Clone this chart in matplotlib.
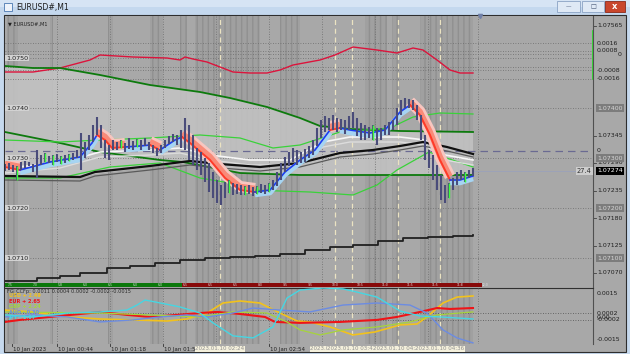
import matplotlib
matplotlib.use("Agg")
import matplotlib.pyplot as plt
from matplotlib import transforms
from matplotlib.patches import Rectangle

W, H = 630, 354

# ---- EURUSD M1 bars, one column ~ 2.5 minutes ----
bar_high = [1.07288, 1.07290, 1.07286, 1.07284, 1.07292, 1.07296, 1.07292, 1.07288, 1.07316, 1.07306,
            1.07310, 1.07304, 1.07306, 1.07308, 1.07304, 1.07306, 1.07308, 1.07310, 1.07316, 1.07350,
            1.07332, 1.07346, 1.07366, 1.07382, 1.07366, 1.07336, 1.07326, 1.07336, 1.07332, 1.07336,
            1.07330, 1.07340, 1.07334, 1.07338, 1.07336, 1.07340, 1.07332, 1.07326, 1.07320, 1.07326,
            1.07336, 1.07344, 1.07348, 1.07346, 1.07356, 1.07380, 1.07366, 1.07346, 1.07320, 1.07312,
            1.07300, 1.07290, 1.07272, 1.07256, 1.07246, 1.07252, 1.07256, 1.07250, 1.07248, 1.07246,
            1.07244, 1.07246, 1.07242, 1.07244, 1.07248, 1.07246, 1.07250, 1.07256, 1.07272, 1.07290,
            1.07302, 1.07312, 1.07320, 1.07316, 1.07312, 1.07318, 1.07324, 1.07336, 1.07360, 1.07376,
            1.07384, 1.07380, 1.07386, 1.07380, 1.07378, 1.07376, 1.07384, 1.07392, 1.07380, 1.07370,
            1.07366, 1.07362, 1.07366, 1.07360, 1.07360, 1.07366, 1.07372, 1.07376, 1.07400, 1.07416,
            1.07420, 1.07418, 1.07416, 1.07406, 1.07386, 1.07346, 1.07316, 1.07306, 1.07286, 1.07266,
            1.07246, 1.07250, 1.07260, 1.07272, 1.07276, 1.07272, 1.07276, 1.07280]
bar_low = [1.07274, 1.07276, 1.07272, 1.07256, 1.07276, 1.07280, 1.07284, 1.07272, 1.07260, 1.07286,
           1.07292, 1.07290, 1.07286, 1.07292, 1.07288, 1.07290, 1.07294, 1.07296, 1.07300, 1.07276,
           1.07300, 1.07316, 1.07332, 1.07346, 1.07320, 1.07300, 1.07296, 1.07316, 1.07316, 1.07320,
           1.07312, 1.07318, 1.07316, 1.07322, 1.07316, 1.07324, 1.07316, 1.07310, 1.07304, 1.07310,
           1.07320, 1.07328, 1.07332, 1.07326, 1.07320, 1.07316, 1.07296, 1.07286, 1.07276, 1.07266,
           1.07252, 1.07232, 1.07220, 1.07210, 1.07206, 1.07220, 1.07230, 1.07226, 1.07228, 1.07226,
           1.07226, 1.07228, 1.07224, 1.07228, 1.07230, 1.07228, 1.07232, 1.07236, 1.07244, 1.07256,
           1.07272, 1.07284, 1.07292, 1.07286, 1.07290, 1.07292, 1.07300, 1.07306, 1.07324, 1.07340,
           1.07352, 1.07356, 1.07356, 1.07352, 1.07356, 1.07348, 1.07356, 1.07360, 1.07344, 1.07336,
           1.07336, 1.07340, 1.07336, 1.07326, 1.07336, 1.07346, 1.07346, 1.07356, 1.07366, 1.07386,
           1.07400, 1.07400, 1.07396, 1.07376, 1.07336, 1.07296, 1.07280, 1.07256, 1.07236, 1.07216,
           1.07210, 1.07220, 1.07236, 1.07246, 1.07256, 1.07252, 1.07260, 1.07264]
green_bars = [3, 10, 12, 14, 16, 29, 33, 56, 60, 63, 66, 92, 111, 115]
current_price = 1.07274

# ---- indicator lines (column, price) ----
red_x = [0, 7, 13.75, 21.25, 23.75, 32, 40.5, 43.75, 45, 47, 50.5, 53.75, 57, 61.25, 65.5, 68.75, 72, 78.75,
         82.5, 87, 93, 98, 102, 104.5, 108, 111.25, 113.75, 117]
red_y = [1.07472, 1.07472, 1.07480, 1.07496, 1.07506, 1.07502, 1.07500, 1.07496, 1.07502, 1.07498, 1.07492,
         1.07482, 1.07472, 1.07470, 1.07470, 1.07476, 1.07486, 1.07496, 1.07506, 1.07522, 1.07516, 1.07510,
         1.07520, 1.07516, 1.07496, 1.07476, 1.07470, 1.07470]

dgreen_up_x = [0, 7, 13.75, 23.75, 36.25, 48.75, 56.25, 65.5, 73.75, 78.75, 86.25, 98.75, 117]
dgreen_up_y = [1.07484, 1.07480, 1.07480, 1.07466, 1.07446, 1.07432, 1.07420, 1.07402, 1.07380, 1.07364,
               1.07358, 1.07354, 1.07352]
dgreen_lo_x = [0, 13.75, 23.75, 38.75, 44.5, 58.75, 73.75, 98.75, 117]
dgreen_lo_y = [1.07352, 1.07330, 1.07312, 1.07296, 1.07292, 1.07270, 1.07266, 1.07266, 1.07266]
band_lo_x = [0, 20, 22.5, 36.25, 46.25, 49, 58.75, 73.75, 117]
band_lo_y = [1.07262, 1.07262, 1.07268, 1.07282, 1.07290, 1.07286, 1.07270, 1.07266, 1.07266]

black_x = [0, 18.75, 22.5, 36.25, 46.25, 53.75, 63.75, 73.75, 83.75, 92, 98.75, 104.5, 110.5, 117]
black_y = [1.07264, 1.07262, 1.07272, 1.07284, 1.07294, 1.07288, 1.07282, 1.07290, 1.07310, 1.07316,
           1.07324, 1.07332, 1.07322, 1.07308]
gray_y = [1.07256, 1.07254, 1.07264, 1.07276, 1.07286, 1.07280, 1.07274, 1.07282, 1.07302, 1.07308,
          1.07316, 1.07324, 1.07314, 1.07302]

white_x = [0, 13.75, 23.75, 36.25, 43.75, 51.25, 61.25, 71.25, 79.5, 86.25, 98.75, 105, 110, 117]
white1_y = [1.07280, 1.07290, 1.07312, 1.07316, 1.07320, 1.07306, 1.07296, 1.07296, 1.07332, 1.07342,
            1.07342, 1.07336, 1.07306, 1.07296]
white2_y = [1.07270, 1.07280, 1.07302, 1.07306, 1.07310, 1.07296, 1.07286, 1.07286, 1.07322, 1.07332,
            1.07332, 1.07326, 1.07296, 1.07286]

lgreen_up_x = [0, 13.75, 23.75, 36.25, 48.75, 58.75, 67, 73.75, 83.75, 96.25, 102, 108.75, 117]
lgreen_up_y = [1.07336, 1.07332, 1.07336, 1.07340, 1.07346, 1.07340, 1.07320, 1.07326, 1.07352, 1.07360,
               1.07382, 1.07390, 1.07388]
lgreen_lo_x = [0, 13.75, 26.25, 38.75, 48.75, 56.25, 61.25, 76.25, 87, 93, 98, 106, 117]
lgreen_lo_y = [1.07260, 1.07260, 1.07282, 1.07290, 1.07260, 1.07250, 1.07236, 1.07232, 1.07226, 1.07246,
               1.07276, 1.07312, 1.07282]

# fast MA ribbon; rib_up tells the colour of each segment (1 = blue, 0 = red)
rib_x = [0, 3.75, 11.25, 18.75, 21.75, 23, 25, 26.75, 30, 33.75, 36.25, 38.75, 42.5, 44.25, 46.25, 51.25,
         55, 58.75, 62.5, 66.25, 70, 73.75, 77.5, 81.25, 83.75, 86.25, 91.25, 95, 98.75, 101.25, 103.75,
         106.25, 108.75, 111.25, 113.75, 117]
rib_y = [1.07282, 1.07276, 1.07292, 1.07302, 1.07330, 1.07346, 1.07336, 1.07320, 1.07322, 1.07324, 1.07326,
         1.07316, 1.07336, 1.07342, 1.07330, 1.07296, 1.07260, 1.07236, 1.07232, 1.07236, 1.07272, 1.07296,
         1.07316, 1.07356, 1.07360, 1.07356, 1.07350, 1.07356, 1.07392, 1.07406, 1.07386, 1.07346, 1.07296,
         1.07256, 1.07256, 1.07264]
rib_up = [0, 1, 1, 1, 1, 0, 0, 0, 1, 1, 0, 1, 1, 0, 0, 0, 0, 0, 1, 1, 1, 1, 1, 0, 1, 1, 1, 1, 1, 0, 0, 0, 0, 1, 1]

# stepped line near the bottom
step_x = [0, 8, 13.75, 18.75, 25.5, 31.25, 37.5, 43.75, 50, 56.25, 62.5, 68.75, 75, 81.25, 87, 93.25, 99.5,
          105.75, 112, 117]
step_y = [1.07054, 1.07060, 1.07064, 1.07070, 1.07080, 1.07084, 1.07090, 1.07096, 1.07100, 1.07102, 1.07104,
          1.07108, 1.07116, 1.07122, 1.07126, 1.07134, 1.07140, 1.07142, 1.07144, 1.07146]

shade_start = [0.5, 11.25, 25.75, 36.25, 43.75, 47.5, 68.75, 90, 96.75, 103.75]
shade_end = [3.25, 12, 27, 39.5, 45.5, 63.75, 73.75, 95.5, 98.75, 117]

grid_cols = [13, 26.25, 39.5, 52.75, 66, 79.25, 92.5, 105.75, 118.25]
price_grid = [1.0750, 1.0740, 1.0730, 1.0720, 1.0710]
osc_lines = [1.07530, 1.07514, 1.07508, 1.07482, 1.07476, 1.07458]
osc_labels = ["0.0016", "0.0008", "-0.0008", "-0.0016"]
osc_label_y = [1.07530, 1.07514, 1.07476, 1.07458]
zero_level = 1.07314

right_ticks = [1.07565, 1.07345, 1.07290, 1.07235, 1.07180, 1.07125, 1.07070]
boxed_levels = [1.07400, 1.07300, 1.07200, 1.07100]

vline_cols = [53.75, 82.5, 86.75, 98.25, 108.75]
vline_labels = ["2023.01.10 02:24", "2023.01.10 03:33", "2023.01.10 03:42", "2023.01.10 04:10",
                "2023.01.10 04:36"]
time_cols = [1.75, 13, 26.25, 39.5, 66]
time_labels = ["10 Jan 2023", "10 Jan 00:44", "10 Jan 01:18", "10 Jan 01:52", "10 Jan 02:54"]

strip_switch = 44.25
strip_end = 119.25
strip_labels = ["7:5", "7:0", "5:8", "6:0", "6:5", "6:0", "6:0", "6:5", "6:5", "6:5",
                "8:0", "9:5", "9:5", "10:0", "10:5", "11:0", "11:5", "11:5", "11:8", "12:0"]

# ---- currency strength sub window (column, value) ----
usd_x = [0, 7, 15.5, 23.75, 32, 40.5, 45.5, 50.5, 54.5, 58.75, 63.75, 68.75, 73, 76.25, 81.25, 87, 92.5,
         98.75, 103, 105.5, 109.5, 113, 117]
usd_y = [0.00041, 0.00029, -0.00003, -0.00016, -0.00022, -0.00029, -0.00016, 0.00022, 0.00086, 0.00099,
         0.00086, 0.00022, -0.00029, -0.00035, -0.00067, -0.00118, -0.00099, -0.00054, -0.00048, -0.00003,
         0.00086, 0.00124, 0.00131]
eur_x = [0, 3.75, 11.25, 21.25, 23.75, 30.5, 36.25, 43, 48.75, 53, 58.75, 65, 67.5, 73.75, 83.75, 93, 98,
         103.75, 108, 111.25, 117]
eur_y = [-0.00035, -0.00022, -0.00003, 0.00022, 0.00029, 0.00010, -0.00003, 0.00010, 0.00022, 0.00029,
         0.00016, -0.00003, -0.00035, -0.00041, -0.00035, -0.00022, -0.00003, 0.00029, 0.00054, 0.00048,
         0.00054]
gbp_x = [0, 23.75, 48.75, 57, 65.5, 70.5, 73.75, 78.75, 84.5, 93, 101.25, 108, 117]
gbp_y = [0.00029, 0.00022, -0.00003, 0.00029, 0.00022, -0.00035, -0.00086, -0.00118, -0.00086, -0.00067,
         -0.00035, 0.00010, 0.00029]
aud_x = [0, 7, 15.5, 23.75, 32, 38.75, 45.5, 50.5, 57, 62, 68.75, 76.25, 84.5, 93, 101.25, 105.5, 109.5,
         113, 117]
aud_y = [-0.00003, 0.00010, -0.00003, -0.00035, -0.00022, -0.00003, 0.00010, -0.00003, 0.00022, 0.00054,
         0.00041, 0.00029, 0.00073, 0.00086, 0.00073, 0.00022, -0.00086, -0.00137, -0.00169]
jpy_x = [0, 7, 15.5, 23.75, 30.5, 33, 35, 37.5, 43.75, 48.75, 52, 57, 62, 67, 70.5, 73.75, 79.5, 84.5, 88,
         93, 98.75, 103.75, 108.75, 117]
jpy_y = [0.00010, -0.00003, 0.00022, 0.00029, 0.00041, 0.00073, 0.00105, 0.00093, 0.00061, 0.00022,
         -0.00041, -0.00124, -0.00137, -0.00067, 0.00118, 0.00169, 0.00182, 0.00176, 0.00156, 0.00124,
         0.00035, 0.00003, -0.00003, -0.00016]
ccy_names = ["USD + 2.49", "EUR + 2.65", "GBP + 2.24", "AUD - 0.30", "JPY - 1.07"]
sub_header = "FG_CCFp: 0.0011 0.0004 0.0002 -0.0002 -0.0015"
sub_ticks = [0.0015, 0.0002, -0.0002, -0.0015]
sub_dotted = [0.0002, -0.0002]

BG = '#a8a8a8'
GRID = '#6c6c6c'


def fx(px):
    return px / W


def fy(py):
    return 1 - py / H


def box(x0, y0, x1, y1, **kw):
    fig.add_artist(Rectangle((fx(x0), fy(y1)), fx(x1) - fx(x0), (y1 - y0) / H,
                             transform=fig.transFigure, zorder=-1, **kw))


fig = plt.figure(figsize=(W / 100, H / 100), dpi=100)
fig.patch.set_facecolor('#c6d9ee')

# window chrome
box(0, 0, W, 7, facecolor='#d6e4f4', edgecolor='none')
box(0, 7, W, 15, facecolor='#c4d8ee', edgecolor='none')
box(4, 3, 12, 11, facecolor='#eef3fa', edgecolor='#4a78b0', lw=0.6)
fig.text(fx(16), fy(7.5), "EURUSD#,M1", fontsize=5.6, color='#1c1c1c', va='center')
box(557, 1, 580, 12, facecolor='#dfe9f5', edgecolor='#8aa2c4', lw=0.6)
box(582, 1, 604, 12, facecolor='#dfe9f5', edgecolor='#8aa2c4', lw=0.6)
box(605, 1, 625, 12, facecolor='#c9462c', edgecolor='#8a2a1a', lw=0.6)
fig.text(fx(568.5), fy(7), "—", fontsize=4, color='#405070', ha='center', va='center')
fig.text(fx(593), fy(6.5), "□", fontsize=4.5, color='#405070', ha='center', va='center')
fig.text(fx(615), fy(6.5), "x", fontsize=6, color='white', ha='center', va='center', fontweight='bold')
box(4, 15, 626, 352, facecolor=BG, edgecolor='#2e2e2e', lw=0.8)

ax = fig.add_axes([fx(5), fy(287), fx(593) - fx(5), (287 - 16) / H])
sub = fig.add_axes([fx(5), fy(344), fx(593) - fx(5), (344 - 288) / H], sharex=ax)
for a in (ax, sub):
    a.set_facecolor(BG)
    a.set_xticks([])
    a.set_yticks([])
    for s in a.spines.values():
        s.set_visible(False)
    a.spines['right'].set_visible(True)
    a.spines['right'].set_color('#505050')
    a.spines['right'].set_linewidth(0.8)
sub.spines['top'].set_visible(True)
sub.spines['top'].set_color('#303030')
ax.set_xlim(0, 147)
ax.set_ylim(1.07042, 1.07584)
sub.set_ylim(-0.00176, 0.00182)

# session shading and light band
for s0, s1 in zip(shade_start, shade_end):
    for a in (ax, sub):
        a.axvspan(s0, s1, facecolor='#a0a0a0', edgecolor='#909090', hatch='|||', lw=0, zorder=1)
ax.fill(dgreen_up_x + band_lo_x[::-1], dgreen_up_y + band_lo_y[::-1], color='#c4c4c4', alpha=0.85,
        lw=0, zorder=2)

# grid
for c in grid_cols:
    for a in (ax, sub):
        a.axvline(c, color=GRID, ls=(0, (1, 2)), lw=0.6, zorder=3)
for p in price_grid + osc_lines:
    ax.axhline(p, color=GRID, ls=(0, (1, 2)), lw=0.6, zorder=3)
for v in sub_dotted:
    sub.axhline(v, color='#505050', ls=(0, (1, 2)), lw=0.6, zorder=3)
ax.axhline(zero_level, color='#6a6a92', ls=(0, (6, 4)), lw=0.9, zorder=3)
for c in vline_cols:
    for a in (ax, sub):
        a.axvline(c, color='#ebe3c2', ls=(0, (4, 3)), lw=0.9, zorder=3)

# indicator lines
ax.plot(red_x, red_y, color='#dc143c', lw=1.0, zorder=4)
ax.plot(dgreen_up_x, dgreen_up_y, color='#0d7a0d', lw=1.3, zorder=4)
ax.plot(dgreen_lo_x, dgreen_lo_y, color='#0d7a0d', lw=1.3, zorder=4)
ax.plot(lgreen_up_x, lgreen_up_y, color='#3ad23a', lw=0.9, zorder=4)
ax.plot(lgreen_lo_x, lgreen_lo_y, color='#3ad23a', lw=0.9, zorder=4)
ax.plot(white_x, white2_y, color='#dcdcdc', lw=1.0, zorder=4)
ax.plot(white_x, white1_y, color='#f6f6f6', lw=1.2, zorder=4)
ax.plot(black_x, gray_y, color='#5a5a5a', lw=0.9, zorder=4)
ax.plot(black_x, black_y, color='#101010', lw=1.6, zorder=4)
ax.step(step_x, step_y, where='post', color='#202020', lw=1.3, zorder=4)

# ribbon: pale fan on the outside, strong line inside
up_fan = transforms.offset_copy(ax.transData, fig=fig, x=0, y=-2.5, units='dots')
dn_fan = transforms.offset_copy(ax.transData, fig=fig, x=0, y=3.5, units='dots')
start = 0
for i in range(1, len(rib_up) + 1):
    if i == len(rib_up) or rib_up[i] != rib_up[start]:
        xs, ys = rib_x[start:i + 1], rib_y[start:i + 1]
        if rib_up[start]:
            ax.plot(xs, ys, color='#a6d4f2', lw=4, transform=up_fan, zorder=5, solid_capstyle='butt')
            ax.plot(xs, ys, color='#1c3cf0', lw=1.2, zorder=5.5)
        else:
            ax.plot(xs, ys, color='#f7c6c0', lw=8, transform=dn_fan, zorder=5, solid_capstyle='butt')
            ax.plot(xs, ys, color='#f98a78', lw=4, transform=dn_fan, zorder=5, solid_capstyle='butt')
            ax.plot(xs, ys, color='#ff3a28', lw=1.4, zorder=5.5)
        start = i

# price bars
cols = range(len(bar_high))
ax.vlines(cols, bar_low, bar_high, color='#4a4c7a', lw=1.5, zorder=6)
ax.vlines([c for c in green_bars], [bar_low[c] for c in green_bars], [bar_high[c] for c in green_bars],
          color='#3cff3c', lw=1.0, zorder=6.5)
ax.hlines(current_price, len(bar_high) - 1, 147, color='#9aa2ba', lw=0.6, zorder=3)
ax.plot(len(bar_high) + 0.75, 1.07584, marker='v', ms=3, color='#7080a8', clip_on=False, zorder=7)

# colour strip at the bottom of the main window
ax.add_patch(Rectangle((0, 1.07042), strip_switch, 0.00008, facecolor='#0b780b', edgecolor='none',
                       zorder=7))
ax.add_patch(Rectangle((strip_switch, 1.07042), strip_end - strip_switch, 0.00008, facecolor='#880a0a',
                       edgecolor='none', zorder=7))
for k, s in enumerate(strip_labels):
    ax.text(1.25 + 6.25 * k, 1.07046, s, fontsize=2.2, color='#e0e0e0', ha='center', va='center', zorder=8)

# left price labels
for p in price_grid:
    ax.text(0.3, p, "%.4f" % p, fontsize=4.6, color='#202020', va='center', zorder=8,
            bbox=dict(boxstyle='square,pad=0.15', fc='#d2d2d2', ec='none'))
ax.text(0.8, 1.07568, "▼ EURUSD#,M1", fontsize=3.6, color='#202020', va='center', zorder=8)

# right price scale
tr = transforms.blended_transform_factory(fig.transFigure, ax.transData)
trs = transforms.blended_transform_factory(fig.transFigure, sub.transData)
FS = 4.5
for p in right_ticks:
    ax.text(fx(597), p, "%.5f" % p, transform=tr, fontsize=FS, color='#202020', va='center')
    ax.plot([fx(593), fx(595.5)], [p, p], transform=tr, color='#404040', lw=0.6, clip_on=False)
for p in boxed_levels:
    ax.text(fx(597), p, "%.5f" % p, transform=tr, fontsize=FS, color='#d6d6d6', va='center',
            bbox=dict(boxstyle='square,pad=0.2', fc='#7c7c7c', ec='none'))
for s, p in zip(osc_labels, osc_label_y):
    ax.text(fx(597), p, s, transform=tr, fontsize=FS, color='#202020', va='center')
ax.text(fx(618), osc_lines[2], "0", transform=tr, fontsize=FS, color='#202020', va='center')
ax.text(fx(597), zero_level, "0", transform=tr, fontsize=FS, color='#202020', va='center')
ax.plot([fx(593), fx(593)], [1.07458, 1.07554], transform=tr, color='#22e022', lw=1.2, clip_on=False)
ax.text(fx(597), current_price, "%.5f" % current_price, transform=tr, fontsize=FS, color='white',
        va='center', bbox=dict(boxstyle='square,pad=0.2', fc='#000000', ec='none'))
ax.text(fx(591.5), current_price, "27.4", transform=tr, fontsize=FS + 0.3, color='#303030', va='center',
        ha='right', bbox=dict(boxstyle='square,pad=0.15', fc='#cdcdcd', ec='none'))

for v in sub_ticks:
    sub.text(fx(597), v, "%.4f" % v, transform=trs, fontsize=FS, color='#202020', va='center')
sub.text(fx(597), -0.00005, "0.00", transform=trs, fontsize=FS, color='#202020', va='center')

# currency strength lines
ccy = [(usd_x, usd_y, '#f2c21c', 1.2), (eur_x, eur_y, '#ee1418', 1.5), (gbp_x, gbp_y, '#a6d43c', 0.9),
       (aud_x, aud_y, '#6c8ce2', 1.0), (jpy_x, jpy_y, '#46d6e2', 1.0)]
for xs, ys, c, lw in ccy:
    sub.plot(xs, ys, color=c, lw=lw, zorder=5)
sub.text(0.6, 0.00164, sub_header, fontsize=3.6, color='#2a2a2a', va='center', zorder=8)
for k, (name, (_, _, c, _)) in enumerate(zip(ccy_names, ccy)):
    sub.text(0.9, 0.00131 - k * 0.00035, name, fontsize=3.6, color=c, va='center', fontweight='bold',
             zorder=8)

# time axis
trt = transforms.blended_transform_factory(ax.transData, fig.transFigure)
for c, s in zip(time_cols, time_labels):
    ax.text(c + 0.3, fy(349), s, transform=trt, fontsize=4.0, color='#202020', va='center')
    ax.plot([c, c], [fy(344), fy(346)], transform=trt, color='#303030', lw=0.6, clip_on=False)
for c, s in zip(vline_cols, vline_labels):
    ax.text(c, fy(349), s, transform=trt, fontsize=4.0, color='#909090', va='center', ha='center',
            bbox=dict(boxstyle='square,pad=0.15', fc='#f4f0dc', ec='none'))

fig.savefig("out.png", dpi=100, facecolor=fig.get_facecolor())
